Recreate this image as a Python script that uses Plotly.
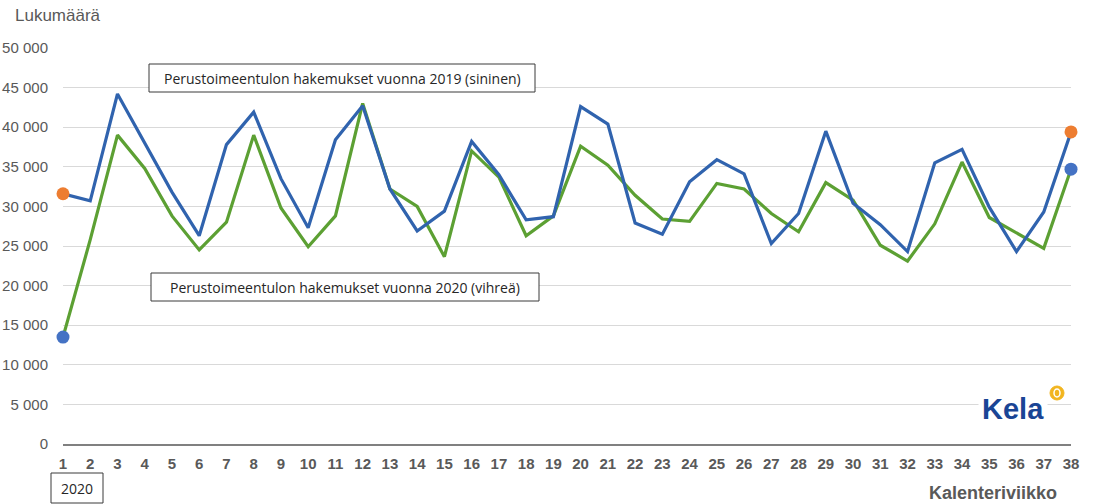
import plotly.graph_objects as go

weeks = list(range(1, 39))
week_labels = [str(w) for w in weeks]

apps_2019 = [31600, 30700, 44200, 38000, 31800, 26300, 37800, 41900, 33500, 27300,
             38400, 42700, 32200, 26900, 29400, 38200, 34000, 28300, 28700, 42600,
             40400, 27900, 26500, 33100, 35900, 34100, 25300, 29100, 39500, 30400,
             27700, 24300, 35500, 37200, 29900, 24300, 29300, 39400]
apps_2020 = [13500, 25800, 39000, 34800, 28800, 24500, 28000, 39000, 29800, 24900,
             28800, 43000, 32200, 30000, 23650, 37000, 33700, 26300, 28800, 37600,
             35200, 31400, 28400, 28100, 32900, 32200, 29100, 26800, 33000, 30800,
             25100, 23100, 27800, 35600, 28600, 26600, 24700, 34700]

y_tickvals = [0, 5000, 10000, 15000, 20000, 25000, 30000, 35000, 40000, 45000, 50000]
y_ticktext = ["0", "5 000", "10 000", "15 000", "20 000", "25 000", "30 000",
              "35 000", "40 000", "45 000", "50 000"]

label_2019 = "Perustoimeentulon hakemukset vuonna 2019 (sininen)"
label_2020 = "Perustoimeentulon hakemukset vuonna 2020 (vihreä)"

BLUE = "#3063AE"
GREEN = "#5CA033"
ORANGE = "#ED7D31"
DOT_BLUE = "#4472C4"
GRAY = "#595959"

W, H = 1093, 504
L, R, T, B = 63, 22, 48, 60
PW, PH = W - L - R, H - T - B


def px(xp):
    return (xp - L) / PW


def py(yp):
    return (H - B - yp) / PH


fig = go.Figure()
fig.add_trace(go.Scatter(x=weeks, y=apps_2020, mode="lines",
                         line=dict(color=GREEN, width=3.2), cliponaxis=False,
                         showlegend=False, name="2020"))
fig.add_trace(go.Scatter(x=weeks, y=apps_2019, mode="lines",
                         line=dict(color=BLUE, width=3.2), cliponaxis=False,
                         showlegend=False, name="2019"))
fig.add_trace(go.Scatter(x=[weeks[0], weeks[-1]], y=[apps_2019[0], apps_2019[-1]],
                         mode="markers", marker=dict(color=ORANGE, size=13),
                         cliponaxis=False, showlegend=False))
fig.add_trace(go.Scatter(x=[weeks[0], weeks[-1]], y=[apps_2020[0], apps_2020[-1]],
                         mode="markers", marker=dict(color=DOT_BLUE, size=13),
                         cliponaxis=False, showlegend=False))

shapes = []
annotations = []

# boxed labels
for (x0, y0, x1, y1, txt) in [(149, 64, 535, 92, label_2019),
                              (151, 273, 539, 301, label_2020),
                              (51, 473, 103, 503, "2020")]:
    shapes.append(dict(type="rect", xref="paper", yref="paper",
                       x0=px(x0), x1=px(x1), y0=py(y1), y1=py(y0),
                       line=dict(color="#3a3a3a", width=1), fillcolor="white",
                       layer="above"))
    annotations.append(dict(xref="paper", yref="paper", x=px((x0 + x1) / 2),
                            y=py((y0 + y1) / 2), text=txt, showarrow=False,
                            xanchor="center", yanchor="middle",
                            font=dict(family="Open Sans", size=14, color="#262626")))

annotations.append(dict(xref="paper", yref="paper", x=px(13), y=py(16),
                        text="Lukumäärä", showarrow=False, xanchor="left",
                        yanchor="middle",
                        font=dict(family="Liberation Sans", size=17, color=GRAY)))
annotations.append(dict(xref="paper", yref="paper", x=px(1059), y=py(493),
                        text="<b>Kalenteriviikko</b>", showarrow=False,
                        xanchor="right", yanchor="middle",
                        font=dict(family="Liberation Sans", size=18, color=GRAY)))
annotations.append(dict(xref="paper", yref="paper", x=px(1013), y=py(409),
                        text="<b>Kela</b>", showarrow=False, xanchor="center",
                        yanchor="middle", bgcolor="white", borderpad=3,
                        font=dict(family="Liberation Sans", size=29, color="#1A4595")))
shapes.append(dict(type="circle", xref="paper", yref="paper",
                   x0=px(1050), x1=px(1064), y0=py(400), y1=py(386),
                   fillcolor="#F2B51F", line=dict(color="#F2B51F", width=1),
                   layer="above"))
shapes.append(dict(type="circle", xref="paper", yref="paper",
                   x0=px(1054), x1=px(1060), y0=py(397), y1=py(389),
                   fillcolor="rgba(0,0,0,0)", line=dict(color="white", width=1.5),
                   layer="above"))

fig.update_layout(
    width=W, height=H,
    margin=dict(l=L, r=R, t=T, b=B, pad=0, autoexpand=False),
    paper_bgcolor="white", plot_bgcolor="white",
    shapes=shapes, annotations=annotations,
    xaxis=dict(range=[1, 38], tickvals=weeks, ticktext=week_labels,
               showgrid=False, zeroline=False, showline=True,
               linecolor="#808080", linewidth=2, ticks="",
               ticklabelstandoff=5, automargin=False,
               tickfont=dict(family="Liberation Sans", size=15, color=GRAY,
                             weight="bold")),
    yaxis=dict(range=[0, 50000], tickvals=y_tickvals, ticktext=y_ticktext,
               showgrid=True, gridcolor="#D9D9D9", gridwidth=1,
               zeroline=False, showline=False, ticks="",
               ticklabelstandoff=14, automargin=False,
               tickfont=dict(family="Liberation Sans", size=15, color=GRAY)),
)

fig.write_html("out.html", config={"displayModeBar": False},
               post_script="document.body.style.margin='0';"
                           "document.body.style.overflow='hidden';")
